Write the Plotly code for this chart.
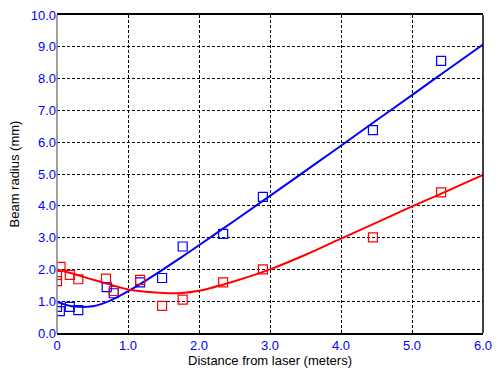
import plotly.graph_objects as go

# measured points
blue_x = [0.0, 0.04, 0.18, 0.30, 0.70, 0.80, 1.17, 1.48, 1.77, 2.34, 2.90, 4.45, 5.41]
blue_y = [0.82, 0.69, 0.82, 0.72, 1.44, 1.25, 1.59, 1.73, 2.72, 3.12, 4.28, 6.38, 8.56]
red_x = [0.0, 0.0, 0.05, 0.18, 0.30, 0.69, 0.80, 1.17, 1.48, 1.77, 2.34, 2.90, 4.45, 5.41]
red_y = [1.63, 1.83, 2.08, 1.83, 1.69, 1.71, 1.32, 1.67, 0.85, 1.05, 1.59, 2.00, 3.01, 4.42]

# fitted curves
fit_x = [0.0, 0.25, 0.5, 0.75, 1.0, 1.25, 1.5, 1.75, 2.0, 2.5, 3.0, 3.5, 4.0, 4.5, 5.0, 5.5, 6.0]
blue_fit = [0.98, 0.83, 0.84, 1.02, 1.31, 1.65, 2.01, 2.38, 2.76, 3.53, 4.31, 5.10, 5.89, 6.69, 7.48, 8.28, 9.07]
red_fit = [2.0, 1.85, 1.68, 1.52, 1.37, 1.30, 1.26, 1.26, 1.33, 1.63, 2.0, 2.46, 2.97, 3.47, 3.98, 4.47, 4.97]

x_ticks = [0, 1, 2, 3, 4, 5, 6]
x_ticktext = ["0", "1.0", "2.0", "3.0", "4.0", "5.0", "6.0"]
y_ticks = list(range(0, 11))
y_ticktext = [f"{v}.0" for v in y_ticks]

BLUE = "#0000ff"
RED = "#ff0000"

fig = go.Figure()
fig.add_trace(go.Scatter(x=fit_x, y=blue_fit, mode="lines", line=dict(color=BLUE, width=2, shape="spline"), hoverinfo="skip"))
fig.add_trace(go.Scatter(x=fit_x, y=red_fit, mode="lines", line=dict(color=RED, width=2, shape="spline"), hoverinfo="skip"))
fig.add_trace(go.Scatter(x=blue_x, y=blue_y, mode="markers",
                         marker=dict(symbol="square-open", size=9, color=BLUE, line=dict(width=1.2, color=BLUE))))
fig.add_trace(go.Scatter(x=red_x, y=red_y, mode="markers",
                         marker=dict(symbol="square-open", size=9, color=RED, line=dict(width=1.2, color=RED))))

fig.update_layout(
    width=499, height=375,
    margin=dict(l=57, r=16, t=15, b=42),
    paper_bgcolor="white", plot_bgcolor="white",
    showlegend=False,
    font=dict(family="Liberation Sans, Arial, sans-serif", size=12, color="black"),
    xaxis=dict(range=[0, 6], tickvals=x_ticks, ticktext=x_ticktext, automargin=False,
               tickfont=dict(color=BLUE, size=13), showgrid=True, gridcolor="black",
               griddash="3px,2px", gridwidth=1, zeroline=False,
               showline=True, linecolor="black", linewidth=1.5, mirror=True,
               ticks="", ticklabelstandoff=0),
    yaxis=dict(range=[0, 10], tickvals=y_ticks, ticktext=y_ticktext, automargin=False,
               tickfont=dict(color=BLUE, size=13), showgrid=True, gridcolor="black",
               griddash="3px,2px", gridwidth=1, zeroline=False,
               showline=False, ticks=""),
    annotations=[
        dict(text="Distance from laser (meters)", xref="paper", yref="paper",
             x=0.5, y=0, yshift=-18, xanchor="center", yanchor="top", showarrow=False,
             font=dict(size=13, color="black")),
        dict(text="Beam radius (mm)", xref="paper", yref="paper", textangle=-90,
             x=0, xshift=-34, y=0.5, xanchor="right", yanchor="middle", showarrow=False,
             font=dict(size=13, color="black")),
    ],
)
# plot frame: gray left edge, black right edge
fig.add_shape(type="line", xref="paper", yref="paper", x0=0, x1=0, y0=0, y1=1,
              line=dict(color="#808080", width=1.5))
fig.add_shape(type="line", xref="paper", yref="paper", x0=1, x1=1, y0=0, y1=1,
              line=dict(color="black", width=1.5))

fig.write_html("out.html", config={"displayModeBar": False},
               post_script="document.body.style.margin='0';")
